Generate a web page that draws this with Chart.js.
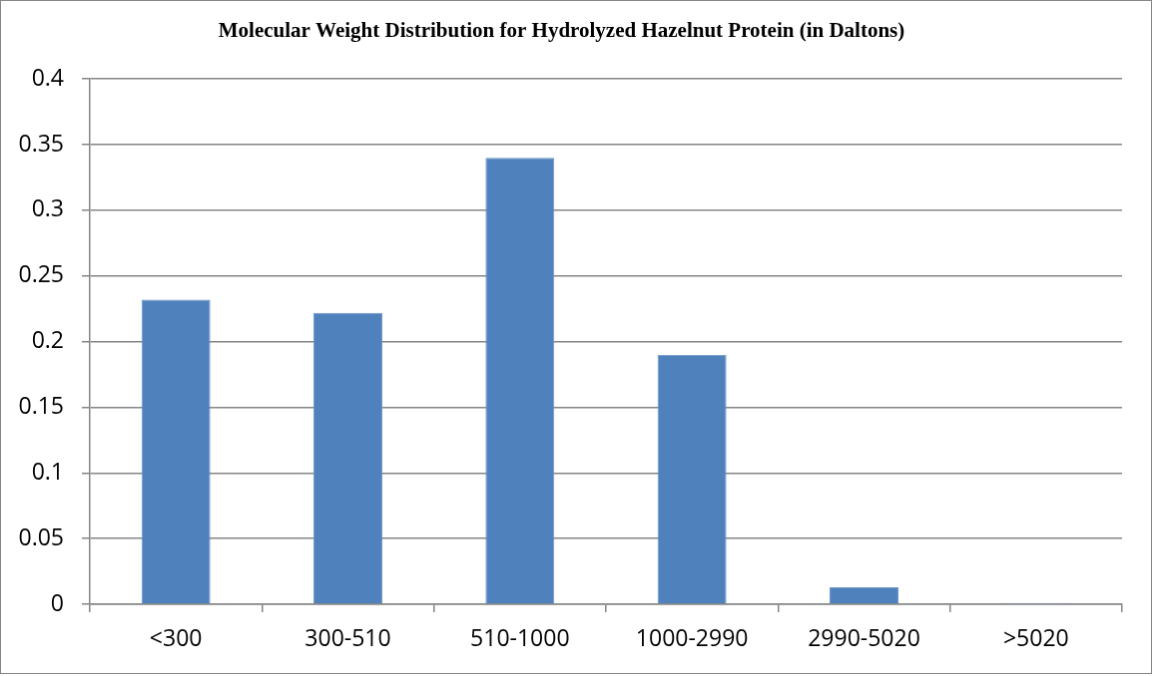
<!DOCTYPE html>
<html>
<head>
<meta charset="utf-8">
<script src="https://cdn.jsdelivr.net/npm/chart.js@4/dist/chart.umd.min.js"></script>
<style>
  body { margin: 0; background: #fff; }
  #chart { display: block; border: 1px solid #868686; }
</style>
</head>
<body>
<canvas id="chart" width="1152" height="674"></canvas>
<script>
const categories = ["<300", "300-510", "510-1000", "1000-2990", "2990-5020", ">5020"];
const fractions = [0.232, 0.222, 0.340, 0.190, 0.013, 0.001];

const gridColor = "#868686";
const tickFont = { family: "'Open Sans', 'Liberation Sans', sans-serif", size: 23 };

const ctx = document.getElementById("chart").getContext("2d");

new Chart(ctx, {
  type: "bar",
  data: {
    labels: categories,
    datasets: [
      {
        label: "Fraction",
        data: fractions,
        backgroundColor: "#4F81BD",
        borderColor: "#6a93c6",
        borderWidth: 1,
        barPercentage: 0.4,
        categoryPercentage: 1,
      },
    ],
  },
  options: {
    responsive: false,
    animation: false,
    layout: { padding: { left: 0, right: 29, top: 0, bottom: 0 } },
    plugins: {
      legend: { display: false },
      tooltip: { enabled: false },
      title: {
        display: true,
        text: "Molecular Weight Distribution for Hydrolyzed Hazelnut Protein (in Daltons)",
        color: "#000",
        font: { family: "'Liberation Serif', 'Times New Roman', serif", size: 21, weight: "bold" },
        padding: { top: 18, bottom: 35 },
      },
    },
    scales: {
      x: {
        offset: true,
        grid: {
          offset: true,
          drawOnChartArea: false,
          drawTicks: true,
          tickLength: 8,
          color: gridColor,
          lineWidth: 1.5,
        },
        border: { display: true, color: gridColor, width: 1.5 },
        ticks: { color: "#000", font: tickFont, padding: 14, maxRotation: 0 },
        afterFit: (scale) => { scale.height = 69; },
      },
      y: {
        min: 0,
        max: 0.4,
        grid: {
          drawTicks: true,
          tickLength: 8,
          color: gridColor,
          lineWidth: 1.5,
        },
        border: { display: true, color: gridColor, width: 1.5 },
        ticks: {
          stepSize: 0.05,
          color: "#000",
          font: tickFont,
          padding: 18,
          callback: (v) => String(parseFloat(Number(v).toFixed(2))),
        },
        afterFit: (scale) => { scale.width = 89; },
      },
    },
  },
});
</script>
</body>
</html>
